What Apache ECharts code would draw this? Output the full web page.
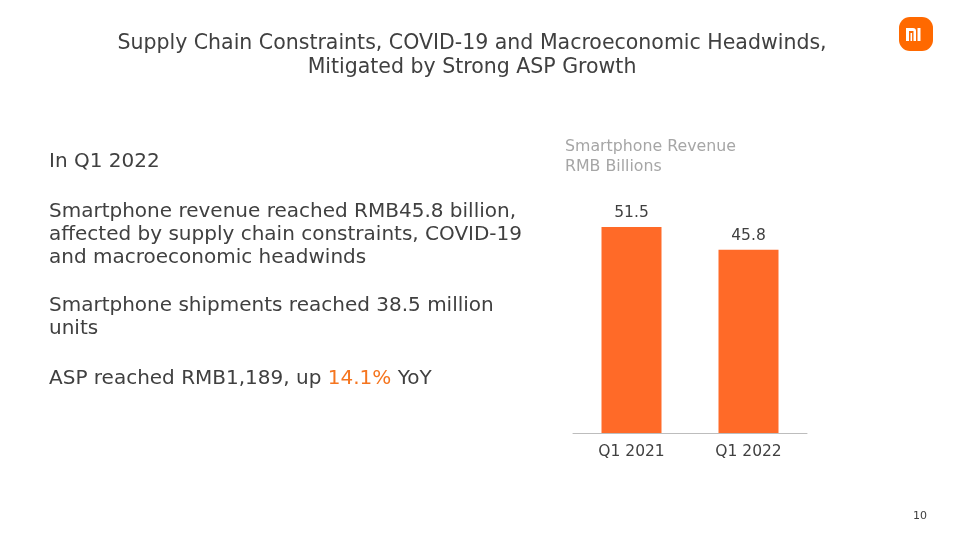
<!DOCTYPE html>
<html>
<head>
<meta charset="utf-8">
<script src="https://cdn.jsdelivr.net/npm/echarts@6/dist/echarts.min.js"></script>
<style>
  html, body { margin: 0; padding: 0; background: #fff; }
  #chart { width: 960px; height: 540px; }
</style>
</head>
<body>
<div id="chart"></div>
<script>
const categories = ['Q1 2021', 'Q1 2022']
const revenue = [51.5, 45.8]
const titleLines = [
  'Supply Chain Constraints, COVID-19 and Macroeconomic Headwinds,',
  'Mitigated by Strong ASP Growth'
]
const chartTitle = ['Smartphone Revenue', 'RMB Billions']
// [text, centre y]
const bullets = [
  ['{t|In Q1 2022}', 162],
  ['{t|Smartphone revenue reached RMB45.8 billion,}', 212],
  ['{t|affected by supply chain constraints, COVID-19}', 235],
  ['{t|and macroeconomic headwinds}', 258],
  ['{t|Smartphone shipments reached 38.5 million}', 306],
  ['{t|units}', 329],
  ['{t|ASP reached RMB1,189, up }{o|14.1%}{t| YoY}', 379]
]

const FONT = 'DejaVu Sans'
const ORANGE = '#ff6a28'
const TEXT = '#404040'

const chart = echarts.init(document.getElementById('chart'))

const textLine = (text, x, y, size, fill, align) => ({
  type: 'text',
  x, y,
  style: {
    text,
    fill,
    fontSize: size,
    fontFamily: FONT,
    align: align || 'left',
    verticalAlign: 'middle'
  }
})

chart.setOption({
  backgroundColor: '#fff',
  animation: false,
  grid: { left: 573, right: 153, top: 193, bottom: 107 },
  xAxis: {
    type: 'category',
    data: categories,
    axisTick: { show: false },
    axisLine: { lineStyle: { color: '#bdbdbd', width: 1 } },
    axisLabel: { color: TEXT, fontSize: 15.5, fontFamily: FONT, margin: 11 }
  },
  yAxis: {
    type: 'value',
    min: 0,
    max: 60,
    show: false
  },
  series: [{
    type: 'bar',
    data: revenue,
    barWidth: 60,
    itemStyle: { color: ORANGE },
    label: {
      show: true,
      position: 'top',
      distance: 6,
      color: TEXT,
      fontSize: 15.5,
      fontFamily: FONT
    }
  }],
  graphic: [
    textLine(titleLines[0], 472, 44, 20.5, TEXT, 'center'),
    textLine(titleLines[1], 472, 68, 20.5, TEXT, 'center'),
    textLine(chartTitle[0], 565, 147, 15.8, '#a6a6a6'),
    textLine(chartTitle[1], 565, 167, 15.8, '#a6a6a6'),
    ...bullets.map(([text, y]) => ({
      type: 'text',
      x: 49, y,
      style: {
        text,
        verticalAlign: 'middle',
        rich: {
          t: { fill: TEXT, fontSize: 20, fontFamily: FONT },
          o: { fill: '#f5751f', fontSize: 20, fontFamily: FONT }
        }
      }
    })),
    textLine('10', 927, 516, 11, TEXT, 'right'),
    // logo
    {
      type: 'group',
      x: 899,
      y: 17,
      children: [
        { type: 'rect', shape: { x: 0, y: 0, width: 34, height: 34, r: 11 }, style: { fill: '#ff6900' } },
        { type: 'rect', shape: { x: 7, y: 11, width: 10, height: 13, r: [0, 3, 0, 0] }, style: { fill: '#fff' } },
        { type: 'rect', shape: { x: 10, y: 14, width: 4.5, height: 10 }, style: { fill: '#ff6900' } },
        { type: 'rect', shape: { x: 11.5, y: 16, width: 1.6, height: 8 }, style: { fill: '#fff' } },
        { type: 'rect', shape: { x: 18.5, y: 11, width: 3, height: 13 }, style: { fill: '#fff' } }
      ]
    }
  ]
})
</script>
</body>
</html>
